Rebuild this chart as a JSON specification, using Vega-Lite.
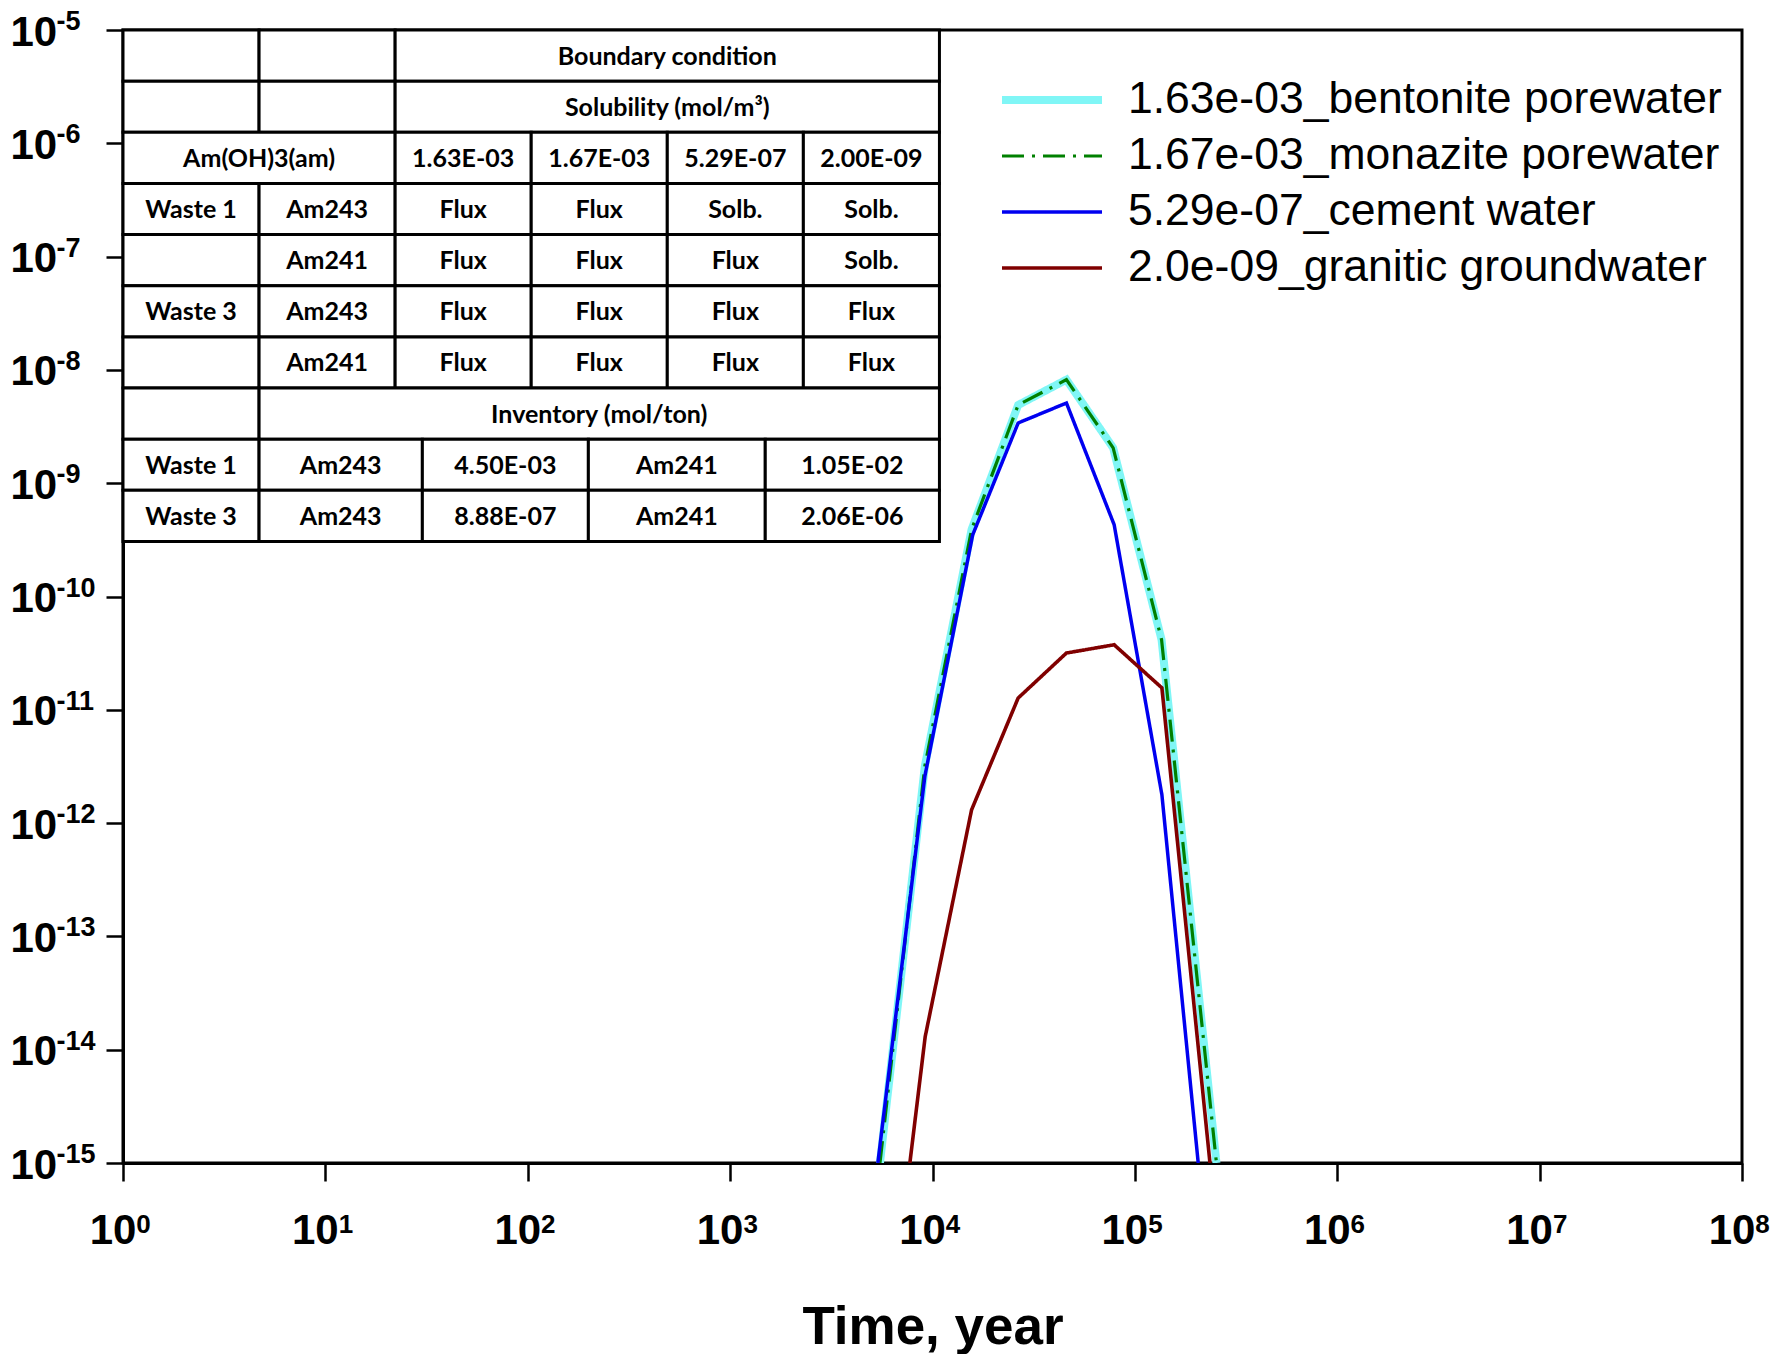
{
  "$schema": "https://vega.github.io/schema/vega-lite/v6.json",
  "width": 1619,
  "height": 1133,
  "autosize": {"type": "none"},
  "padding": {"left": 123, "top": 30, "right": 37, "bottom": 191},
  "background": "white",
  "config": {
    "view": {"stroke": "black", "strokeWidth": 3},
    "axis": {"grid": false, "domainColor": "black", "domainWidth": 3, "tickColor": "black", "tickWidth": 2.5, "labelColor": "black", "titleColor": "black", "labelFlush": false, "labelOverlap": false, "labelBound": false}
  },
  "datasets": {
    "curves": [
      {"series": "1.63e-03_bentonite porewater", "t": 5500, "c": 1e-15},
      {"series": "1.63e-03_bentonite porewater", "t": 9170, "c": 3.2e-12},
      {"series": "1.63e-03_bentonite porewater", "t": 15600, "c": 3.9e-10},
      {"series": "1.63e-03_bentonite porewater", "t": 26500, "c": 4.9e-9},
      {"series": "1.63e-03_bentonite porewater", "t": 45900, "c": 8.2e-9},
      {"series": "1.63e-03_bentonite porewater", "t": 78100, "c": 2.05e-9},
      {"series": "1.63e-03_bentonite porewater", "t": 135500, "c": 4.15e-11},
      {"series": "1.63e-03_bentonite porewater", "t": 253000, "c": 1e-15},
      {"series": "1.67e-03_monazite porewater", "t": 5500, "c": 1e-15},
      {"series": "1.67e-03_monazite porewater", "t": 9170, "c": 3.2e-12},
      {"series": "1.67e-03_monazite porewater", "t": 15600, "c": 3.9e-10},
      {"series": "1.67e-03_monazite porewater", "t": 26500, "c": 4.9e-9},
      {"series": "1.67e-03_monazite porewater", "t": 45900, "c": 8.2e-9},
      {"series": "1.67e-03_monazite porewater", "t": 78100, "c": 2.05e-9},
      {"series": "1.67e-03_monazite porewater", "t": 135500, "c": 4.15e-11},
      {"series": "1.67e-03_monazite porewater", "t": 253000, "c": 1e-15},
      {"series": "5.29e-07_cement water", "t": 5370, "c": 1e-15},
      {"series": "5.29e-07_cement water", "t": 9170, "c": 2.6e-12},
      {"series": "5.29e-07_cement water", "t": 15800, "c": 3.5e-10},
      {"series": "5.29e-07_cement water", "t": 26500, "c": 3.4e-9},
      {"series": "5.29e-07_cement water", "t": 45900, "c": 5.1e-9},
      {"series": "5.29e-07_cement water", "t": 79000, "c": 4.3e-10},
      {"series": "5.29e-07_cement water", "t": 136000, "c": 1.78e-12},
      {"series": "5.29e-07_cement water", "t": 205600, "c": 1e-15},
      {"series": "2.0e-09_granitic groundwater", "t": 7730, "c": 1e-15},
      {"series": "2.0e-09_granitic groundwater", "t": 9200, "c": 1.3e-14},
      {"series": "2.0e-09_granitic groundwater", "t": 15600, "c": 1.31e-12},
      {"series": "2.0e-09_granitic groundwater", "t": 26500, "c": 1.27e-11},
      {"series": "2.0e-09_granitic groundwater", "t": 45900, "c": 3.17e-11},
      {"series": "2.0e-09_granitic groundwater", "t": 79000, "c": 3.75e-11},
      {"series": "2.0e-09_granitic groundwater", "t": 136000, "c": 1.56e-11},
      {"series": "2.0e-09_granitic groundwater", "t": 235000, "c": 1e-15}
    ],
    "cells": [
      {"r0": 0, "r1": 1, "c0": 0, "c1": 1, "label": ""},
      {"r0": 0, "r1": 1, "c0": 1, "c1": 2, "label": ""},
      {"r0": 0, "r1": 1, "c0": 2, "c1": 6, "label": "Boundary condition"},
      {"r0": 1, "r1": 2, "c0": 0, "c1": 1, "label": ""},
      {"r0": 1, "r1": 2, "c0": 1, "c1": 2, "label": ""},
      {"r0": 1, "r1": 2, "c0": 2, "c1": 6, "label": "Solubility (mol/m³)"},
      {"r0": 2, "r1": 3, "c0": 0, "c1": 2, "label": "Am(OH)3(am)"},
      {"r0": 2, "r1": 3, "c0": 2, "c1": 3, "label": "1.63E-03"},
      {"r0": 2, "r1": 3, "c0": 3, "c1": 4, "label": "1.67E-03"},
      {"r0": 2, "r1": 3, "c0": 4, "c1": 5, "label": "5.29E-07"},
      {"r0": 2, "r1": 3, "c0": 5, "c1": 6, "label": "2.00E-09"},
      {"r0": 3, "r1": 4, "c0": 0, "c1": 1, "label": "Waste 1"},
      {"r0": 3, "r1": 4, "c0": 1, "c1": 2, "label": "Am243"},
      {"r0": 3, "r1": 4, "c0": 2, "c1": 3, "label": "Flux"},
      {"r0": 3, "r1": 4, "c0": 3, "c1": 4, "label": "Flux"},
      {"r0": 3, "r1": 4, "c0": 4, "c1": 5, "label": "Solb."},
      {"r0": 3, "r1": 4, "c0": 5, "c1": 6, "label": "Solb."},
      {"r0": 4, "r1": 5, "c0": 0, "c1": 1, "label": ""},
      {"r0": 4, "r1": 5, "c0": 1, "c1": 2, "label": "Am241"},
      {"r0": 4, "r1": 5, "c0": 2, "c1": 3, "label": "Flux"},
      {"r0": 4, "r1": 5, "c0": 3, "c1": 4, "label": "Flux"},
      {"r0": 4, "r1": 5, "c0": 4, "c1": 5, "label": "Flux"},
      {"r0": 4, "r1": 5, "c0": 5, "c1": 6, "label": "Solb."},
      {"r0": 5, "r1": 6, "c0": 0, "c1": 1, "label": "Waste 3"},
      {"r0": 5, "r1": 6, "c0": 1, "c1": 2, "label": "Am243"},
      {"r0": 5, "r1": 6, "c0": 2, "c1": 3, "label": "Flux"},
      {"r0": 5, "r1": 6, "c0": 3, "c1": 4, "label": "Flux"},
      {"r0": 5, "r1": 6, "c0": 4, "c1": 5, "label": "Flux"},
      {"r0": 5, "r1": 6, "c0": 5, "c1": 6, "label": "Flux"},
      {"r0": 6, "r1": 7, "c0": 0, "c1": 1, "label": ""},
      {"r0": 6, "r1": 7, "c0": 1, "c1": 2, "label": "Am241"},
      {"r0": 6, "r1": 7, "c0": 2, "c1": 3, "label": "Flux"},
      {"r0": 6, "r1": 7, "c0": 3, "c1": 4, "label": "Flux"},
      {"r0": 6, "r1": 7, "c0": 4, "c1": 5, "label": "Flux"},
      {"r0": 6, "r1": 7, "c0": 5, "c1": 6, "label": "Flux"},
      {"r0": 7, "r1": 8, "c0": 0, "c1": 1, "label": ""},
      {"r0": 7, "r1": 8, "c0": 1, "c1": 6, "label": "Inventory (mol/ton)"},
      {"r0": 8, "r1": 9, "c0": 0, "c1": 1, "label": "Waste 1"},
      {"r0": 8, "r1": 9, "c0": 1, "c1": 2.2, "label": "Am243"},
      {"r0": 8, "r1": 9, "c0": 2.2, "c1": 3.42, "label": "4.50E-03"},
      {"r0": 8, "r1": 9, "c0": 3.42, "c1": 4.72, "label": "Am241"},
      {"r0": 8, "r1": 9, "c0": 4.72, "c1": 6, "label": "1.05E-02"},
      {"r0": 9, "r1": 10, "c0": 0, "c1": 1, "label": "Waste 3"},
      {"r0": 9, "r1": 10, "c0": 1, "c1": 2.2, "label": "Am243"},
      {"r0": 9, "r1": 10, "c0": 2.2, "c1": 3.42, "label": "8.88E-07"},
      {"r0": 9, "r1": 10, "c0": 3.42, "c1": 4.72, "label": "Am241"},
      {"r0": 9, "r1": 10, "c0": 4.72, "c1": 6, "label": "2.06E-06"}
    ]
  },
  "resolve": {"scale": {"x": "independent", "y": "independent"}, "axis": {"x": "independent", "y": "independent"}},
  "layer": [
    {
      "data": {"name": "curves"},
      "mark": {"type": "line", "clip": true},
      "encoding": {
        "x": {"field": "t", "type": "quantitative",
          "scale": {"type": "log", "domain": [1, 100000000], "nice": false},
          "axis": {"orient": "bottom", "values": [1, 10, 100, 1000, 10000, 100000, 1000000, 10000000, 100000000],
            "labelExpr": "'10'",
            "labelFont": "'Liberation Sans', Arial, sans-serif", "labelFontWeight": "bold", "labelFontSize": 42,
            "tickSize": 18, "labelPadding": 29, "labelOffset": -10.5, "labelAlign": "center",
            "title": "Time, year", "titleFont": "'Liberation Sans', Arial, sans-serif", "titleFontWeight": "bold", "titleFontSize": 53,
            "titleY": 180, "titleBaseline": "alphabetic"}},
        "y": {"field": "c", "type": "quantitative",
          "scale": {"type": "log", "domain": [1e-15, 1e-5], "nice": false},
          "axis": {"orient": "left", "values": [1e-15, 1e-14, 1e-13, 1e-12, 1e-11, 1e-10, 1e-9, 1e-8, 1e-7, 1e-6, 1e-5],
            "labelExpr": "'10'",
            "labelFont": "'Liberation Sans', Arial, sans-serif", "labelFontWeight": "bold", "labelFontSize": 42,
            "tickSize": 17, "labelPadding": 96, "labelAlign": "left", "labelBaseline": "middle", "labelOffset": 2, "title": null}},
        "color": {"field": "series", "type": "nominal",
          "scale": {"domain": ["1.63e-03_bentonite porewater", "1.67e-03_monazite porewater", "5.29e-07_cement water", "2.0e-09_granitic groundwater"],
            "range": ["#80F6F6", "#008000", "#0000F0", "#800000"]},
          "legend": {"orient": "none", "legendX": 875, "legendY": 47, "title": null, "symbolType": "stroke", "symbolSize": 10000, "clipHeight": 46, "rowPadding": 10, "labelFont": "'Liberation Sans', Arial, sans-serif", "labelFontSize": 44.5, "labelColor": "black", "labelOffset": 22, "labelLimit": 1000, "padding": 0}},
        "strokeDash": {"field": "series", "type": "nominal",
          "scale": {"domain": ["1.63e-03_bentonite porewater", "1.67e-03_monazite porewater", "5.29e-07_cement water", "2.0e-09_granitic groundwater"],
            "range": [[1, 0], [22, 8, 3, 8], [1, 0], [1, 0]]},
          "legend": {"orient": "none", "legendX": 875, "legendY": 47, "title": null, "symbolType": "stroke", "symbolSize": 10000, "clipHeight": 46, "rowPadding": 10, "labelFont": "'Liberation Sans', Arial, sans-serif", "labelFontSize": 44.5, "labelColor": "black", "labelOffset": 22, "labelLimit": 1000, "padding": 0}},
        "strokeWidth": {"field": "series", "type": "nominal",
          "scale": {"type": "ordinal", "domain": ["1.63e-03_bentonite porewater", "1.67e-03_monazite porewater", "5.29e-07_cement water", "2.0e-09_granitic groundwater"],
            "range": [8, 3.2, 3.5, 3.6]},
          "legend": {"orient": "none", "legendX": 875, "legendY": 47, "title": null, "symbolType": "stroke", "symbolSize": 10000, "clipHeight": 46, "rowPadding": 10, "labelFont": "'Liberation Sans', Arial, sans-serif", "labelFontSize": 44.5, "labelColor": "black", "labelOffset": 22, "labelLimit": 1000, "padding": 0}},
        "order": {"field": "t", "type": "quantitative"}
      }
    },
    {
      "data": {"name": "curves"},
      "mark": {"type": "point", "opacity": 0},
      "encoding": {
        "x": {"field": "t", "type": "quantitative",
          "scale": {"type": "log", "domain": [1, 100000000], "nice": false},
          "axis": {"orient": "bottom", "values": [1, 10, 100, 1000, 10000, 100000, 1000000, 10000000, 100000000],
            "labelExpr": "'' + round(log(datum.value)/LN10)",
            "labelFont": "'Liberation Sans', Arial, sans-serif", "labelFontWeight": "bold", "labelFontSize": 26,
            "domain": false, "ticks": true, "tickColor": "transparent", "tickSize": 18, "labelPadding": 30, "labelOffset": 20, "labelAlign": "center", "title": null}},
        "y": {"field": "c", "type": "quantitative",
          "scale": {"type": "log", "domain": [1e-15, 1e-5], "nice": false},
          "axis": {"orient": "left", "values": [1e-15, 1e-14, 1e-13, 1e-12, 1e-11, 1e-10, 1e-9, 1e-8, 1e-7, 1e-6, 1e-5],
            "labelExpr": "'-' + round(-log(datum.value)/LN10)",
            "labelFont": "'Liberation Sans', Arial, sans-serif", "labelFontWeight": "bold", "labelFontSize": 27,
            "domain": false, "ticks": true, "tickColor": "transparent", "tickSize": 17, "labelPadding": 50, "labelAlign": "left", "labelBaseline": "middle", "labelOffset": -8.5, "title": null}}
      }
    },
    {
      "data": {"name": "cells"},
      "mark": {"type": "rect", "fill": "white", "stroke": "black", "strokeWidth": 3},
      "encoding": {
        "x": {"field": "c0", "type": "quantitative", "scale": {"domain": [0, 11.898], "nice": false, "zero": false}, "axis": null},
        "x2": {"field": "c1"},
        "y": {"field": "r0", "type": "quantitative", "scale": {"domain": [0, 22.15], "nice": false, "zero": false, "reverse": true}, "axis": null},
        "y2": {"field": "r1"}
      }
    },
    {
      "data": {"name": "cells"},
      "transform": [
        {"filter": "datum.label != ''"},
        {"fold": ["c0", "c1"], "as": ["ck", "cv"]},
        {"fold": ["r0", "r1"], "as": ["rk", "rv"]},
        {"aggregate": [{"op": "mean", "field": "cv", "as": "cx"}, {"op": "mean", "field": "rv", "as": "cy"}], "groupby": ["label", "c0", "r0"]}
      ],
      "mark": {"type": "text", "font": "Lato, 'Liberation Sans', sans-serif", "fontWeight": "bold", "fontSize": 25, "color": "black", "align": "center", "baseline": "middle", "dy": 1},
      "encoding": {
        "x": {"field": "cx", "type": "quantitative", "scale": {"domain": [0, 11.898], "nice": false, "zero": false}, "axis": null},
        "y": {"field": "cy", "type": "quantitative", "scale": {"domain": [0, 22.15], "nice": false, "zero": false, "reverse": true}, "axis": null},
        "text": {"field": "label", "type": "nominal"}
      }
    }
  ]
}
